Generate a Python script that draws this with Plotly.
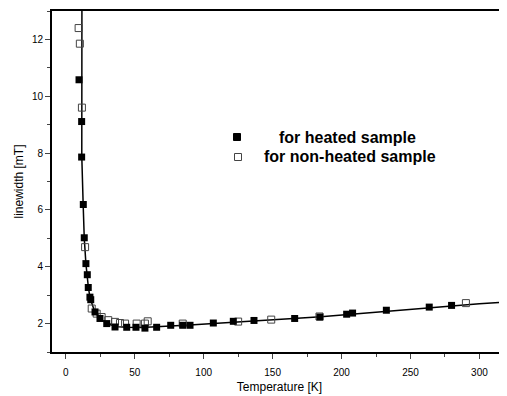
import plotly.graph_objects as go

# Heated sample (filled squares)
heated_T = [9.6, 11.5, 11.5, 12.7, 13.4, 14.6, 15.6, 16.3, 17.5, 18.1, 21.2, 24.8, 29.7, 35.7,
            44.2, 50.9, 57.4, 65.9, 76.1, 84.8, 90.1, 107.0, 121.5, 136.5, 166.0, 184.3,
            203.7, 208.0, 232.5, 263.6, 279.8]
heated_W = [10.58, 9.11, 7.86, 6.19, 5.02, 4.11, 3.72, 3.27, 2.93, 2.84, 2.41, 2.18, 2.00, 1.88,
            1.87, 1.87, 1.84, 1.87, 1.94, 1.94, 1.94, 2.02, 2.08, 2.11, 2.18, 2.23,
            2.33, 2.37, 2.47, 2.58, 2.64]

# Non-heated sample (open squares)
nonheated_T = [9.3, 10.2, 11.7, 14.0, 18.8, 22.4, 26.0, 30.8, 35.7, 39.3, 43.0, 51.4, 57.4,
               59.4, 84.8, 125.0, 149.0, 184.0, 290.2]
nonheated_W = [12.4, 11.85, 9.6, 4.69, 2.53, 2.35, 2.23, 2.12, 2.06, 2.02, 2.00, 2.00, 2.00,
               2.08, 2.00, 2.07, 2.14, 2.25, 2.72]

# Fitted curve
fit_T = [11.7, 11.6, 11.6, 12.6, 13.4, 14.6, 15.4, 16.4, 17.6, 19.0, 21.0, 25.0, 30.0, 36.0,
         44.0, 55.0, 70.0, 90.0, 110.0, 136.0, 165.0, 185.0, 205.0, 232.0, 263.0, 280.0,
         300.0, 320.0]
fit_W = [13.0, 9.1, 7.9, 6.2, 5.0, 4.1, 3.7, 3.27, 2.9, 2.68, 2.42, 2.17, 2.0, 1.9,
         1.87, 1.86, 1.89, 1.95, 2.01, 2.1, 2.18, 2.24, 2.32, 2.45, 2.57, 2.63,
         2.7, 2.76]

x_ticks = [0, 50, 100, 150, 200, 250, 300]
y_ticks = [2, 4, 6, 8, 10, 12]
labels = ["for heated sample", "for non-heated sample"]

# page has an 8px body margin; figure is sized to fill the rest
OFF = 8
W, H = 507 - OFF, 396 - OFF
# plot area in page pixels
L, R, T, B = 52, 507, 11, 352
def px(x):
    return (x - L) / (R - L)
def py(y):
    return (B - y) / (B - T)

fig = go.Figure()
fig.add_trace(go.Scatter(x=fit_T, y=fit_W, mode="lines",
                         line=dict(color="black", width=1.5), showlegend=False))
fig.add_trace(go.Scatter(x=nonheated_T, y=nonheated_W, mode="markers", name=labels[1],
                         showlegend=False,
                         marker=dict(symbol="square-open", size=7, color="#444",
                                     line=dict(width=1, color="#444"))))
fig.add_trace(go.Scatter(x=heated_T, y=heated_W, mode="markers", name=labels[0],
                         showlegend=False,
                         marker=dict(symbol="square", size=7, color="black")))

font = "Liberation Sans, Arial, sans-serif"
# legend keys
fig.add_shape(type="rect", xref="paper", yref="paper",
              x0=px(233.5), x1=px(240.5), y0=py(140.5), y1=py(133.5),
              fillcolor="black", line=dict(color="black", width=1))
fig.add_shape(type="rect", xref="paper", yref="paper",
              x0=px(234.5), x1=px(241.5), y0=py(160.5), y1=py(153.5),
              fillcolor="white", line=dict(color="#444", width=1))
fig.add_annotation(xref="paper", yref="paper", x=px(277), y=py(137), text=labels[0],
                   showarrow=False, xanchor="left", yanchor="middle",
                   font=dict(size=16, family=font, weight="bold"))
fig.add_annotation(xref="paper", yref="paper", x=px(262), y=py(157), text=labels[1],
                   showarrow=False, xanchor="left", yanchor="middle",
                   font=dict(size=16, family=font, weight="bold"))

fig.update_layout(
    width=W, height=H,
    margin=dict(l=L - OFF, r=507 - R, t=T - OFF, b=396 - B),
    paper_bgcolor="white", plot_bgcolor="white",
    font=dict(family=font, color="black", size=10),
    showlegend=False,
    xaxis=dict(range=[-10, 320], tickvals=x_ticks, ticks="outside", ticklen=5, tickwidth=1,
               showline=True, linecolor="black", linewidth=2, mirror=True, showgrid=False,
               zeroline=False, ticklabelstandoff=5, automargin=False,
               minor=dict(dtick=25, tick0=0, ticks="outside", ticklen=3, tickwidth=1),
               title=dict(text="Temperature [K]", font=dict(size=12), standoff=6)),
    yaxis=dict(range=[1, 13], tickvals=y_ticks, ticks="outside", ticklen=5, tickwidth=1,
               showline=True, linecolor="black", linewidth=2, mirror=True, showgrid=False,
               zeroline=False, automargin=False,
               minor=dict(dtick=1, tick0=1, ticks="outside", ticklen=3, tickwidth=1),
               title=dict(text="linewidth [mT]", font=dict(size=12), standoff=6)),
)

fig.write_html("out.html")
